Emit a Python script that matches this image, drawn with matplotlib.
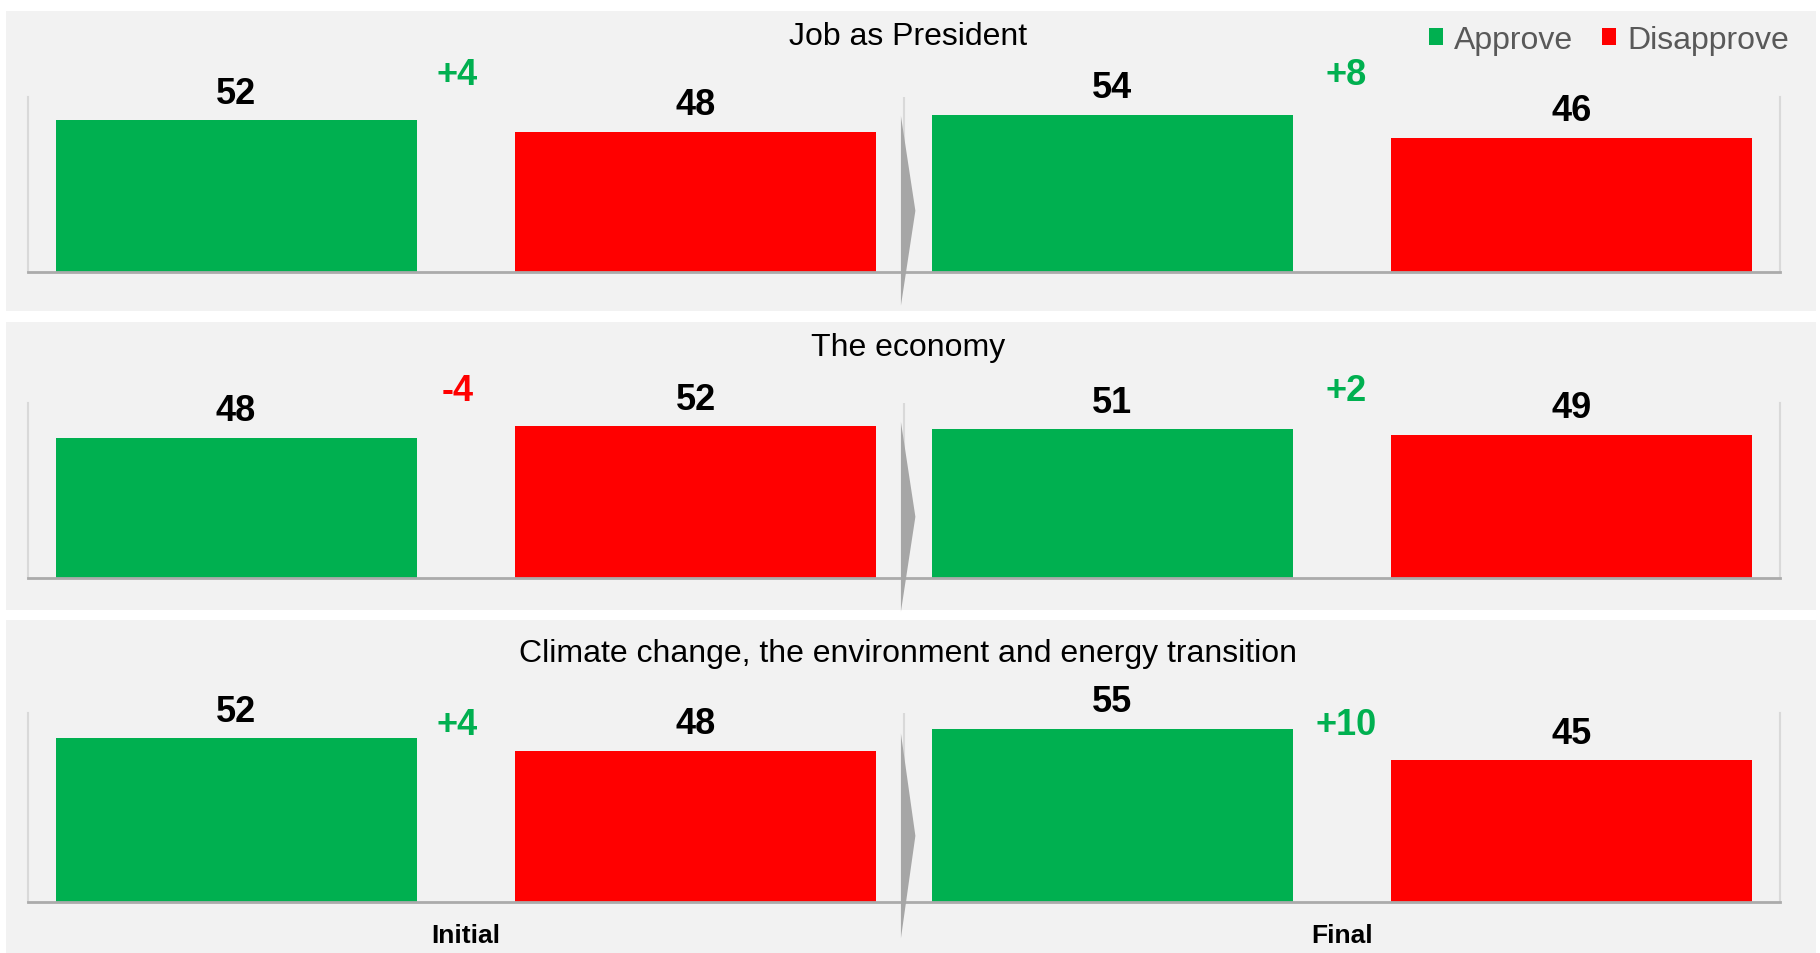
import matplotlib.pyplot as plt
from matplotlib.patches import Rectangle, Polygon, Patch

plt.rcParams['font.family'] = ['Liberation Sans', 'DejaVu Sans']

panel_titles = ['Job as President', 'The economy',
                'Climate change, the environment and energy transition']
waves = ['Initial', 'Final']
series = ['Approve', 'Disapprove']
approve_initial = [52, 48, 52]
disapprove_initial = [48, 52, 48]
approve_final = [54, 51, 55]
disapprove_final = [46, 49, 45]
net_initial = ['+4', '-4', '+4']
net_final = ['+8', '+2', '+10']

GREEN = '#00B050'
RED = '#FF0000'
BG = '#F2F2F2'

W, H = 1820, 954
fig = plt.figure(figsize=(W / 100, H / 100), dpi=100)
fig.patch.set_facecolor('white')

# panel backgrounds (pixel rects: top, bottom)
panel_rects = [(12, 312), (323, 611), (621, 954)]
for top, bottom in panel_rects:
    fig.patches.append(Rectangle((6 / W, 1 - bottom / H), (1816 - 6) / W, (bottom - top) / H,
                                 transform=fig.transFigure, facecolor=BG, edgecolor='none',
                                 zorder=-5))

# axes placement (pixel: baseline, axis top)
axes_px = [(273, 98), (579, 404), (903, 714)]
title_px = [37, 348, 654]
net_y = [67.8, 64.3, 56.4]
net_dx = [-0.02, 0.01]

bar_w = 0.824
offset = 0.525

for i in range(3):
    base, top = axes_px[i]
    ax = fig.add_axes([28 / W, 1 - base / H, 1752 / W, (base - top) / H])
    ax.set_facecolor('none')
    ax.set_xlim(0, 4)
    ax.set_ylim(0, 60)

    vals = [approve_initial[i], disapprove_initial[i], approve_final[i], disapprove_final[i]]
    cols = [GREEN, RED, GREEN, RED]
    xs = []
    for g in range(2):
        xs += [2 * g + 1 - offset, 2 * g + 1 + offset]
    ax.bar(xs, vals, width=bar_w, color=cols, zorder=2)
    for x, v in zip(xs, vals):
        ax.annotate(str(v), (x, v), xytext=(0, 19.5), textcoords='offset points',
                    ha='center', va='center', fontsize=26, fontweight='bold', color='black')

    for g, net in enumerate([net_initial[i], net_final[i]]):
        c = RED if net.startswith('-') else GREEN
        ax.text(2 * g + 1 + net_dx[g], net_y[i], net, ha='center', va='center',
                fontsize=26, fontweight='bold', color=c, clip_on=False)

    # spines
    ax.spines['top'].set_visible(False)
    ax.spines['left'].set_color('#D9D9D9')
    ax.spines['right'].set_color('#D9D9D9')
    ax.spines['left'].set_linewidth(1.5)
    ax.spines['right'].set_linewidth(1.5)
    ax.spines['bottom'].set_color('#ABABAB')
    ax.spines['bottom'].set_linewidth(2)
    ax.axvline(2.0, color='#D9D9D9', lw=1.5, zorder=1)
    ax.set_xticks([])
    ax.set_yticks([])

    # separator arrow between the two waves
    ax.add_patch(Polygon([(1.993, 53.5), (2.026, 21), (1.993, -11.5)], closed=True,
                         facecolor='#A6A6A6', edgecolor='none', clip_on=False, zorder=3))

    fig.text(908 / W, 1 - title_px[i] / H, panel_titles[i], ha='center', va='center',
             fontsize=23, color='black')

for g, w in enumerate(waves):
    fig.text((28 + 438 * (2 * g + 1)) / W, 1 - 936 / H, w, ha='center', va='center',
             fontsize=19, fontweight='bold', color='black')

handles = [Patch(facecolor=GREEN, label=series[0]), Patch(facecolor=RED, label=series[1])]
leg = fig.legend(handles=handles, loc='center right', bbox_to_anchor=(1818 / W, 1 - 41 / H),
                 ncol=2, frameon=False, fontsize=23, handlelength=0.45, handleheight=0.45,
                 handletextpad=0.35, columnspacing=0.9)
for t in leg.get_texts():
    t.set_color('#595959')

fig.savefig('out.png', dpi=100, facecolor='white')
